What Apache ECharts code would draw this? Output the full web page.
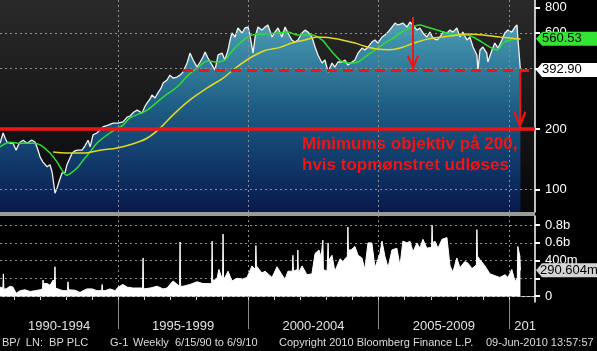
<!DOCTYPE html>
<html>
<head>
<meta charset="utf-8">
<script src="https://cdn.jsdelivr.net/npm/echarts@6/dist/echarts.min.js"></script>
<style>
html, body { margin: 0; padding: 0; background: #000; }
#chart { width: 597px; height: 351px; }
</style>
</head>
<body>
<div id="chart"></div>
<script>
// BP PLC weekly, [decimal year, price in pence]
const price = [[1990.47,170],[1990.59,191],[1990.67,180],[1990.74,172],[1990.86,170],[1990.97,170],[1991.09,157],[1991.16,165],[1991.24,172],[1991.36,176],[1991.51,170],[1991.62,174],[1991.70,176],[1991.82,172],[1991.93,157],[1992.01,145],[1992.12,137],[1992.28,130],[1992.39,133],[1992.47,122],[1992.51,112],[1992.58,96],[1992.66,102],[1992.78,114],[1992.85,121],[1992.97,122],[1993.04,133],[1993.16,144],[1993.24,152],[1993.35,156],[1993.47,157],[1993.62,157],[1993.73,165],[1993.85,176],[1993.93,163],[1994.04,187],[1994.19,191],[1994.31,198],[1994.42,205],[1994.62,209],[1994.81,214],[1995.00,214],[1995.19,217],[1995.35,229],[1995.46,232],[1995.61,243],[1995.73,248],[1995.92,240],[1996.04,260],[1996.11,269],[1996.23,282],[1996.30,295],[1996.42,285],[1996.53,302],[1996.65,319],[1996.73,338],[1996.88,350],[1996.99,370],[1997.11,358],[1997.26,362],[1997.38,370],[1997.49,383],[1997.65,425],[1997.76,476],[1997.88,440],[1998.03,406],[1998.15,430],[1998.26,455],[1998.34,482],[1998.45,450],[1998.61,415],[1998.72,392],[1998.84,466],[1998.99,476],[1999.10,440],[1999.22,493],[1999.30,553],[1999.37,599],[1999.49,572],[1999.60,634],[1999.76,599],[1999.87,634],[1999.99,641],[2000.06,585],[2000.18,476],[2000.26,572],[2000.37,641],[2000.52,619],[2000.64,641],[2000.75,656],[2000.91,572],[2001.02,605],[2001.14,634],[2001.29,572],[2001.41,641],[2001.52,599],[2001.67,553],[2001.79,540],[2001.90,553],[2002.06,599],[2002.17,619],[2002.29,605],[2002.44,572],[2002.56,510],[2002.67,466],[2002.83,425],[2002.94,440],[2003.06,383],[2003.21,425],[2003.32,406],[2003.44,430],[2003.59,430],[2003.71,440],[2003.82,415],[2003.98,430],[2004.09,440],[2004.21,476],[2004.36,504],[2004.47,493],[2004.59,510],[2004.74,540],[2004.86,553],[2004.97,534],[2005.13,572],[2005.24,585],[2005.36,605],[2005.51,641],[2005.63,671],[2005.74,656],[2005.93,671],[2006.09,641],[2006.20,679],[2006.32,656],[2006.47,619],[2006.58,634],[2006.70,599],[2006.85,572],[2006.97,605],[2007.08,565],[2007.24,553],[2007.35,572],[2007.47,605],[2007.62,599],[2007.74,619],[2007.85,605],[2008.00,634],[2008.12,572],[2008.23,605],[2008.39,553],[2008.50,572],[2008.62,510],[2008.77,466],[2008.81,392],[2008.89,493],[2009.00,510],[2009.15,476],[2009.19,430],[2009.35,493],[2009.46,534],[2009.58,504],[2009.73,553],[2009.84,599],[2009.96,619],[2010.11,605],[2010.23,641],[2010.31,656],[2010.34,572],[2010.44,392.90]]

// moving averages as drawn (green = short, yellow = long)
const maShort = [[1990.47,163],[1990.86,172],[1991.24,170],[1991.74,170],[1992.01,167],[1992.39,152],[1992.66,137],[1992.85,125],[1993.04,118],[1993.16,120],[1993.43,128],[1993.66,140],[1993.93,154],[1994.19,170],[1994.58,187],[1994.88,198],[1995.19,209],[1995.46,227],[1996.11,248],[1996.73,288],[1997.26,323],[1997.69,370],[1998.03,401],[1998.45,435],[1998.80,430],[1999.10,440],[1999.41,493],[1999.68,534],[2000.14,585],[2000.64,592],[2001.14,599],[2001.52,605],[2001.90,585],[2002.44,585],[2002.83,553],[2003.06,510],[2003.32,466],[2003.63,430],[2003.98,425],[2004.21,430],[2004.47,455],[2004.86,493],[2005.24,534],[2005.63,572],[2005.82,599],[2006.20,634],[2006.58,656],[2006.85,641],[2007.24,619],[2007.62,599],[2008.00,585],[2008.39,585],[2008.62,572],[2008.96,540],[2009.27,510],[2009.54,493],[2009.77,534],[2010.04,553],[2010.44,560.53]]

const maLong = [[1992.51,154],[1993.04,152],[1993.66,152],[1994.31,157],[1994.96,161],[1995.46,167],[1996.11,180],[1996.61,202],[1997.11,235],[1997.76,279],[1998.41,319],[1999.03,358],[1999.56,406],[2000.06,450],[2000.64,490],[2001.21,508],[2001.67,534],[2002.17,553],[2002.63,572],[2003.06,568],[2003.59,553],[2004.09,534],[2004.47,515],[2004.94,499],[2005.43,495],[2005.82,504],[2006.47,540],[2007.08,565],[2007.74,578],[2008.39,592],[2009.00,585],[2009.65,572],[2010.04,565],[2010.44,559]]

// volume in billions of shares
const volume = [[1990.47,0.10],[1990.58,0.09],[1990.60,0.25],[1990.62,0.08],[1990.70,0.08],[1990.86,0.11],[1990.97,0.10],[1991.09,0.03],[1991.24,0.06],[1991.43,0.07],[1991.63,0.05],[1991.82,0.06],[1992.01,0.07],[1992.10,0.08],[1992.12,0.18],[1992.14,0.14],[1992.28,0.14],[1992.39,0.12],[1992.51,0.18],[1992.56,0.15],[1992.58,0.33],[1992.60,0.09],[1992.66,0.08],[1992.78,0.07],[1992.89,0.06],[1993.06,0.06],[1993.08,0.16],[1993.10,0.07],[1993.16,0.07],[1993.35,0.065],[1993.54,0.04],[1993.66,0.06],[1993.81,0.08],[1994.00,0.08],[1994.19,0.06],[1994.37,0.06],[1994.39,0.13],[1994.41,0.06],[1994.50,0.06],[1994.69,0.08],[1994.89,0.06],[1995.00,0.10],[1995.19,0.13],[1995.35,0.10],[1995.58,0.09],[1995.94,0.09],[1995.96,0.43],[1995.98,0.08],[1996.04,0.08],[1996.23,0.09],[1996.50,0.11],[1996.73,0.08],[1996.88,0.09],[1997.11,0.17],[1997.36,0.11],[1997.38,0.61],[1997.40,0.11],[1997.49,0.11],[1997.76,0.13],[1998.03,0.16],[1998.26,0.14],[1998.41,0.14],[1998.59,0.14],[1998.61,0.62],[1998.63,0.18],[1998.72,0.18],[1998.80,0.20],[1998.87,0.30],[1999.01,0.18],[1999.03,0.70],[1999.05,0.18],[1999.10,0.18],[1999.22,0.28],[1999.37,0.17],[1999.57,0.20],[1999.76,0.19],[1999.95,0.21],[2000.14,0.34],[2000.27,0.30],[2000.29,0.57],[2000.31,0.34],[2000.37,0.34],[2000.52,0.26],[2000.64,0.28],[2000.91,0.21],[2001.10,0.33],[2001.29,0.24],[2001.41,0.19],[2001.52,0.28],[2001.69,0.28],[2001.71,0.46],[2001.73,0.28],[2001.79,0.28],[2001.88,0.30],[2001.90,0.52],[2001.92,0.26],[2001.98,0.26],[2002.06,0.34],[2002.25,0.24],[2002.44,0.25],[2002.56,0.48],[2002.71,0.52],[2002.79,0.44],[2002.86,0.63],[2002.88,0.30],[2003.02,0.28],[2003.06,0.60],[2003.08,0.40],[2003.21,0.46],[2003.32,0.28],[2003.52,0.42],[2003.63,0.39],[2003.80,0.45],[2003.82,0.78],[2003.84,0.52],[2003.94,0.52],[2004.09,0.56],[2004.21,0.46],[2004.36,0.43],[2004.47,0.30],[2004.59,0.60],[2004.74,0.60],[2004.86,0.32],[2005.05,0.48],[2005.13,0.62],[2005.24,0.45],[2005.36,0.32],[2005.51,0.52],[2005.70,0.54],[2005.82,0.34],[2005.93,0.62],[2006.09,0.60],[2006.20,0.62],[2006.32,0.50],[2006.47,0.60],[2006.58,0.54],[2006.70,0.64],[2006.85,0.54],[2007.03,0.55],[2007.05,0.80],[2007.07,0.60],[2007.16,0.62],[2007.28,0.54],[2007.43,0.64],[2007.62,0.66],[2007.74,0.34],[2007.85,0.27],[2008.00,0.43],[2008.12,0.32],[2008.31,0.39],[2008.43,0.37],[2008.58,0.31],[2008.75,0.35],[2008.77,0.75],[2008.79,0.45],[2008.89,0.41],[2009.08,0.34],[2009.27,0.25],[2009.46,0.23],[2009.65,0.21],[2009.85,0.24],[2009.96,0.21],[2010.11,0.30],[2010.23,0.17],[2010.32,0.20],[2010.34,0.56],[2010.42,0.45],[2010.44,0.290604]]

const yearTicks = [1991,1992,1993,1994,1995,1996,1997,1998,1999,2000,2001,2002,2003,2004,2005,2006,2007,2008,2009,2010]
const periodStarts = [1995, 2000, 2005, 2010]
const periodCenters = [1992.74, 1997.5, 2002.5, 2007.5, 2010.62]
const periodLabels = ['1990-1994', '1995-1999', '2000-2004', '2005-2009', '201']
const priceTicks = [100, 200, 400, 600, 800]
const priceGrid = [100, 400, 600]
const volumeTicks = [0, 0.2, 0.4, 0.6, 0.8]
const volumeLabels = [0, 0.4, 0.6, 0.8]

// head and shoulders annotation
const neckline = 392.90
const target = 200
const neckStart = 1997.49
const headTop = 719
const headYear = 2006.32
const breakYear = 2010.42

const xMin = 1990.47, xMax = 2011.0
const red = '#ee1515'
const font = 'Liberation Sans, Arial, sans-serif'
const dotted = { color: '#8f8f8f', width: 1, type: [2, 3] }
// open V arrow head, tip at the centre of the box
const vHead = 'path://M6,-15L6,-15ZM6,0L12,13L10.4,14.5L6,5L1.6,14.5L0,13Z'
const flag = 'path://M0,7L6,0L62,0L62,14L6,14Z'

let myChart = echarts.init(document.getElementById('chart'))

let option = {
    animation: false,
    backgroundColor: '#000',
    grid: [{
            left: 0, right: 62, top: 0, height: 212,
            show: true, borderWidth: 0,
            backgroundColor: {
                type: 'linear', x: 0, y: 0, x2: 0, y2: 1,
                colorStops: [{ offset: 0, color: '#2a2a2a' }, { offset: 1, color: '#07070a' }]
            }
        },
        {
            left: 0, right: 62, top: 216, height: 86,
            show: true, borderWidth: 0, backgroundColor: '#000'
        }
    ],
    xAxis: [{
            type: 'value', gridIndex: 0, min: xMin, max: xMax, show: false
        },
        {
            type: 'value', gridIndex: 1, min: xMin, max: xMax, position: 'bottom',
            axisLine: { show: true, lineStyle: { color: '#d8d8d8', width: 1 } },
            axisTick: { show: true, customValues: yearTicks, length: 4, lineStyle: { color: '#d8d8d8' } },
            axisLabel: {
                show: true, customValues: periodCenters, margin: 18,
                color: '#e2e2e2', fontSize: 13, fontFamily: font,
                formatter: function (v) {
                    let best = 0
                    periodCenters.forEach(function (c, i) {
                        if (Math.abs(c - v) < Math.abs(periodCenters[best] - v)) best = i
                    })
                    return periodLabels[best]
                }
            },
            splitLine: { show: false }
        },
        {
            type: 'value', gridIndex: 1, min: xMin, max: xMax, position: 'bottom',
            axisLine: { show: false },
            axisTick: { show: true, customValues: periodStarts, length: 27, lineStyle: { color: '#8a8a8a' } },
            axisLabel: { show: false },
            splitLine: { show: false }
        }
    ],
    yAxis: [{
            type: 'log', gridIndex: 0, position: 'right', min: 77.5, max: 872.9,
            axisLine: { show: true, lineStyle: { color: '#fff', width: 1.5 } },
            axisTick: { show: true, customValues: priceTicks, length: 5, lineStyle: { color: '#fff', width: 2 } },
            axisLabel: {
                show: true, customValues: priceTicks, margin: 10,
                color: '#fff', fontSize: 13, fontFamily: font,
                formatter: function (v) { return String(Math.round(v)) }
            },
            splitLine: { show: false }
        },
        {
            type: 'value', gridIndex: 1, position: 'right', min: -0.068, max: 0.904,
            axisLine: { show: true, lineStyle: { color: '#fff', width: 1.5 } },
            axisTick: { show: true, customValues: volumeTicks, length: 5, lineStyle: { color: '#fff', width: 2 } },
            axisLabel: {
                show: true, customValues: volumeLabels, margin: 10,
                color: '#fff', fontSize: 13, fontFamily: font,
                formatter: function (v) {
                    if (Math.abs(v) < 1e-6) return '0'
                    if (v >= 0.55) return v.toFixed(1) + 'b'
                    return Math.round(v * 1000) + 'm'
                }
            },
            splitLine: { show: false }
        }
    ],
    series: [{
            name: 'BP PLC',
            type: 'line',
            xAxisIndex: 0, yAxisIndex: 0,
            data: price,
            showSymbol: false,
            lineStyle: { color: '#f2f2f2', width: 1.3 },
            areaStyle: {
                color: {
                    type: 'linear', x: 0, y: 0, x2: 0, y2: 212, global: true,
                    colorStops: [
                        { offset: 0, color: '#6fb5c8' },
                        { offset: 0.2, color: '#3f8ea9' },
                        { offset: 0.5, color: '#1e5e85' },
                        { offset: 0.8, color: '#0f3466' },
                        { offset: 1, color: '#08194a' }
                    ]
                },
                opacity: 1
            },
            markLine: {
                silent: true, symbol: 'none', animation: false,
                label: { show: false },
                data: priceGrid.map(function (v) { return { yAxis: v, lineStyle: dotted } })
                    .concat(periodStarts.map(function (v) { return { xAxis: v, lineStyle: dotted } }))
                    .concat([
                        { yAxis: target, lineStyle: { color: red, width: 3.5, type: 'solid' } },
                        [{ coord: [neckStart, neckline], lineStyle: { color: red, width: 3, type: [10, 6] } },
                         { coord: [xMax, neckline] }],
                        [{ coord: [headYear, headTop], symbol: 'none', lineStyle: { color: red, width: 2, type: 'solid' } },
                         { coord: [headYear, neckline], symbol: vHead, symbolSize: [12, 30] }],
                        [{ coord: [breakYear, neckline], symbol: 'none', lineStyle: { color: red, width: 2, type: 'solid' } },
                         { coord: [breakYear, target], symbol: vHead, symbolSize: [13, 36] }]
                    ])
            },
            markPoint: {
                symbol: flag, symbolSize: [62, 14], symbolOffset: [32, 0],
                itemStyle: { color: '#ffffff' },
                label: { show: true, position: 'insideLeft', distance: 6, color: '#000', fontSize: 13, fontFamily: font,
                    formatter: function (p) { return p.value.toFixed(2) } },
                data: [{ coord: [xMax, neckline], value: neckline }]
            },
            z: 2
        },
        {
            name: 'MA short',
            type: 'line',
            xAxisIndex: 0, yAxisIndex: 0,
            data: maShort,
            showSymbol: false, smooth: 0.35,
            lineStyle: { color: '#2fdc2f', width: 1.5 },
            markPoint: {
                symbol: flag, symbolSize: [62, 14], symbolOffset: [32, 0],
                itemStyle: { color: '#33e433' },
                label: { show: true, position: 'insideLeft', distance: 6, color: '#000', fontSize: 13, fontFamily: font,
                    formatter: function (p) { return p.value.toFixed(2) } },
                data: [{ coord: [xMax, maShort[maShort.length - 1][1]], value: maShort[maShort.length - 1][1] }]
            },
            z: 3
        },
        {
            name: 'MA long',
            type: 'line',
            xAxisIndex: 0, yAxisIndex: 0,
            data: maLong,
            showSymbol: false, smooth: 0.35,
            lineStyle: { color: '#e2da22', width: 1.5 },
            z: 3
        },
        {
            name: 'Volume',
            type: 'line',
            xAxisIndex: 1, yAxisIndex: 1,
            data: volume,
            showSymbol: false,
            lineStyle: { color: '#fff', width: 1 },
            areaStyle: { color: '#fff', opacity: 1 },
            markLine: {
                silent: true, symbol: 'none', z: 1,
                label: { show: false },
                data: volumeTicks.map(function (v) { return { yAxis: v, lineStyle: dotted } })
                    .concat(periodStarts.map(function (v) { return { xAxis: v, lineStyle: dotted } }))
            },
            markPoint: {
                symbol: flag, symbolSize: [62, 14], symbolOffset: [32, 0],
                itemStyle: { color: '#d4d4d4' },
                label: { show: true, position: 'insideLeft', distance: 4, color: '#000', fontSize: 13, fontFamily: font,
                    formatter: function (p) { return (p.value * 1000).toFixed(3) + 'm' } },
                data: [{ coord: [xMax, volume[volume.length - 1][1]], value: volume[volume.length - 1][1] }]
            },
            z: 2
        }
    ],
    graphic: [
        { type: 'rect', left: 0, top: 212, shape: { width: 535, height: 4 }, style: { fill: '#9a9a9a' }, z: 10 },
        {
            type: 'text', left: 302, top: 134, z: 20,
            style: {
                text: 'Minimums objektiv på 200,\nhvis topmønstret udløses',
                fill: red, font: 'bold 17px ' + font, lineHeight: 21
            }
        },
        { type: 'text', left: 2, top: 337, style: { text: 'BP/  LN:  BP PLC', fill: '#dcdcdc', font: '11px ' + font } },
        { type: 'text', left: 110, top: 337, style: { text: 'G-1', fill: '#dcdcdc', font: '11px ' + font } },
        { type: 'text', left: 133, top: 337, style: { text: 'Weekly  6/15/90 to 6/9/10', fill: '#dcdcdc', font: '11px ' + font } },
        { type: 'text', left: 279, top: 337, style: { text: 'Copyright 2010 Bloomberg Finance L.P.', fill: '#dcdcdc', font: '11px ' + font } },
        { type: 'text', left: 486, top: 337, style: { text: '09-Jun-2010 13:57:57', fill: '#dcdcdc', font: '11px ' + font } }
    ]
}

myChart.setOption(option)
</script>
</body>
</html>
